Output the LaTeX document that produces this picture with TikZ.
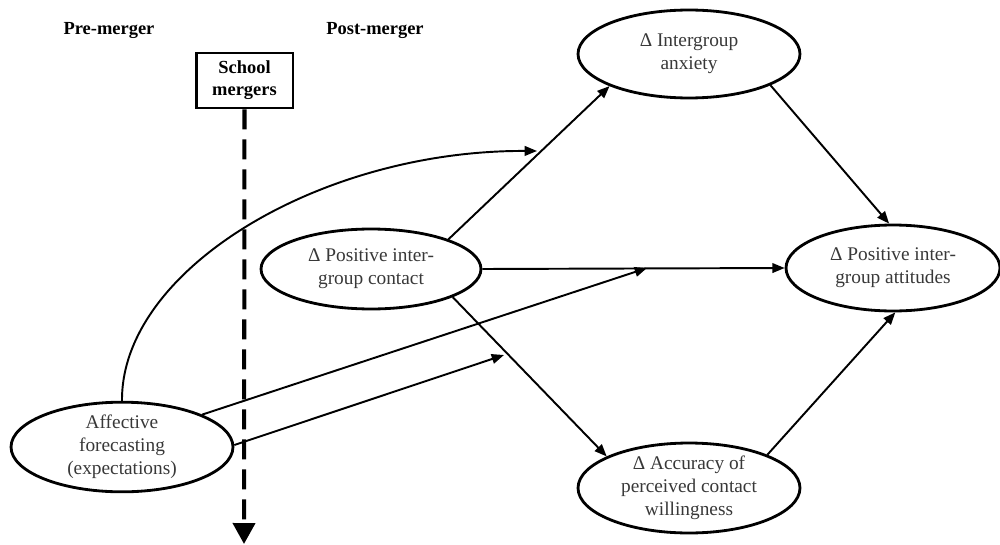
\documentclass[tikz,border=0pt]{standalone}
\usepackage{fontspec}
\setmainfont{Liberation Serif}
\usetikzlibrary{shapes.geometric,arrows.meta}
\begin{document}
\begin{tikzpicture}[x=0.02cm,y=-0.02cm,
  oval/.style={ellipse,draw,line width=1.6pt,inner sep=0pt,align=center,
    text=black!78,font=\fontsize{11}{13}\selectfont},
  conn/.style={line width=1.1pt,-{Triangle[length=7pt,width=5.5pt]}},
  lbl/.style={font=\fontsize{10.5}{12.5}\selectfont\bfseries,align=center}]
\useasboundingbox (0,0) rectangle (1000,544);
\node[lbl] (pre) at (109,30) {Pre-merger};
\node[lbl] (post) at (375,30) {Post-merger};
\node[lbl,draw,line width=1.7pt,inner sep=0pt,
  minimum width=1.94cm,minimum height=1.1cm] (school) at (244.5,80.5) {School\\mergers};
\node[oval,minimum width=4.44cm,minimum height=1.76cm] (anx) at (689,54) {Δ Intergroup\\anxiety};
\node[oval,minimum width=4.4cm,minimum height=1.6cm] (con) at (371,269) {Δ Positive inter-\\group contact};
\node[oval,minimum width=4.28cm,minimum height=1.72cm] (att) at (893,268) {Δ Positive inter-\\group attitudes};
\node[oval,minimum width=4.44cm,minimum height=1.8cm] (acc) at (689,488) {Δ Accuracy of\\perceived contact\\willingness};
\node[oval,minimum width=4.44cm,minimum height=1.76cm] (af) at (122,447) {Affective\\forecasting\\(expectations)};
\coordinate (bot) at (244,544);
\coordinate (c1) at (537,151);
\coordinate (c2) at (647,268);
\coordinate (c3) at (504,355);
\draw[line width=2.3pt,dash pattern=on 0.4cm off 0.2cm,-{Triangle[length=0.42cm,width=0.44cm]}] (school.south) -- (bot);
\draw[conn] (con.21) -- (anx.202);
\draw[conn] (anx.-21) -- (att.95);
\draw[conn] (con.east) -- (att.west);
\draw[conn] (con.-19.5) -- (acc.159);
\draw[conn] (acc.23) -- (att.-87);
\draw[conn] (af.90) .. controls (121,270) and (320,150) .. (c1);
\draw[conn] (af.22) -- (c2);
\draw[conn] (af.1) -- (c3);
\end{tikzpicture}
\end{document}
